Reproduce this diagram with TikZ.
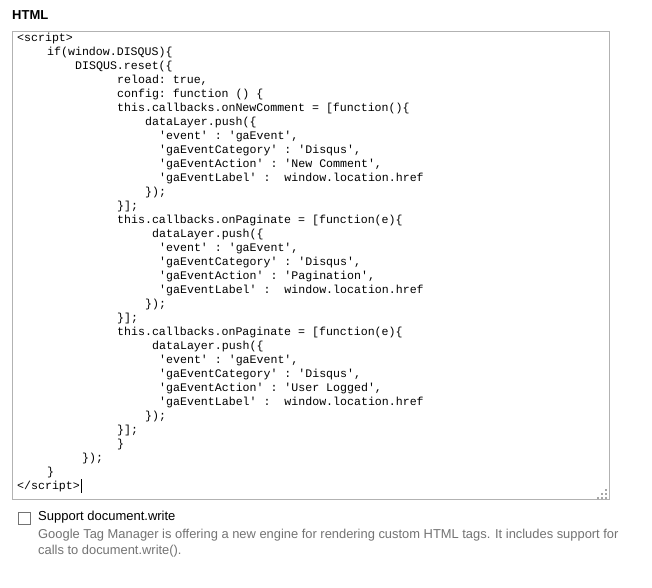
\documentclass[tikz,border=0pt]{standalone}
\usepackage{fontspec}
\setmainfont{Liberation Sans}
\setmonofont{Liberation Mono}
\begin{document}
\begin{tikzpicture}[x=1pt,y=-1pt,
  code/.style={anchor=west,inner sep=0pt,font=\fontsize{11.6}{12}\ttfamily},
  desc/.style={anchor=west,inner sep=0pt,font=\fontsize{12.9}{14}\selectfont,text=black!55}]
\useasboundingbox[fill=white] (0,0) rectangle (652,587);
\node[anchor=west,inner sep=0pt,font=\fontsize{13}{14}\bfseries] (title) at (12,15) {HTML};
\node[draw=black!30,line width=1pt,minimum width=597,minimum height=468,anchor=north west,inner sep=0pt] (box) at (12,31) {};
\foreach \x/\t [count=\i from 0] in {
17/{<script>},
47/{if(window.DISQUS)\{},
75/{DISQUS.reset(\{},
117/{reload: true,},
117/{config: function () \{},
117/{this.callbacks.onNewComment = [function()\{},
145/{dataLayer.push(\{},
159/{'event' : 'gaEvent',},
159/{'gaEventCategory' : 'Disqus',},
159/{'gaEventAction' : 'New Comment',},
159/{'gaEventLabel' :\ \ window.location.href},
145/{\});},
117/{\}];},
117/{this.callbacks.onPaginate = [function(e)\{},
152/{dataLayer.push(\{},
159/{'event' : 'gaEvent',},
159/{'gaEventCategory' : 'Disqus',},
159/{'gaEventAction' : 'Pagination',},
159/{'gaEventLabel' :\ \ window.location.href},
145/{\});},
117/{\}];},
117/{this.callbacks.onPaginate = [function(e)\{},
152/{dataLayer.push(\{},
159/{'event' : 'gaEvent',},
159/{'gaEventCategory' : 'Disqus',},
159/{'gaEventAction' : 'User Logged',},
159/{'gaEventLabel' :\ \ window.location.href},
145/{\});},
117/{\}];},
117/{\}},
82/{\});},
47/{\}},
17/{</script>}}
  \node[code] (l\i) at (\x,{38+14*\i}) {\t};
\draw[line width=0.8pt] (l32.east) ++(1,-7) -- ++(0,14);
\foreach \p in {(605,489),(601,493),(605,493),(597,497),(601,497),(605,497)}
  \fill[black!35] \p rectangle ++(1.5,1.5);
\node[draw=black!55,line width=0.7pt,minimum size=12,inner sep=0pt,anchor=north west] (chk) at (18,512) {};
\node[anchor=west,inner sep=0pt,font=\fontsize{13}{14}\selectfont] (lab) at (38,517) {Support document.write};
\node[desc] (d1) at (38,535) {Google Tag Manager is offering a new engine for rendering custom HTML tags. It includes support for};
\node[desc] (d2) at (38,551) {calls to document.write().};
\end{tikzpicture}
\end{document}
